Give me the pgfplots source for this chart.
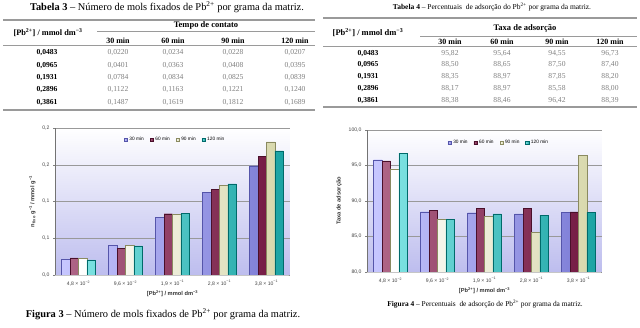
\documentclass[border=0pt]{standalone}
\usepackage{fontspec}
\setmainfont{Liberation Serif}
\newfontfamily\arial{Liberation Sans}
\usepackage{pgfplots}
\pgfplotsset{compat=1.18}
\definecolor{cA}{HTML}{9999FF}
\definecolor{cAd}{HTML}{5555AA}
\definecolor{cB}{HTML}{8B2252}
\definecolor{cBd}{HTML}{4A0F2A}
\definecolor{cC}{HTML}{FFFFCC}
\definecolor{cCd}{HTML}{8A8A60}
\definecolor{cD}{HTML}{22CCCC}
\definecolor{cDd}{HTML}{006A6A}
\definecolor{valgray}{HTML}{808080}
\definecolor{rulegray}{HTML}{9A9A9A}
\definecolor{lav}{HTML}{BDBDEE}
\pgfplotsset{
  mychart/.style={
    scale only axis, width=235pt,
    ybar=0pt, bar width=0.18,
    xmin=-0.5, xmax=4.5,
    xtick={0,...,4},
    xticklabels={{4,8 × 10\textsuperscript{−2}},{9,6 × 10\textsuperscript{−2}},{1,9 × 10\textsuperscript{−1}},{2,8 × 10\textsuperscript{−1}},{3,8 × 10\textsuperscript{−1}}},
    axis lines*=left,
    axis line style={gray!90!black},
    ymajorgrids, grid style={gray!80, line width=0.4pt},
    tick align=outside, major tick length=2pt,
    xtick style={draw=none}, ytick style={gray},
    ticklabel style={font=\arial\fontsize{5.1}{6}\selectfont, text=black!75},
    label style={font=\arial\bfseries\fontsize{5.7}{6.5}\selectfont, text=black!80},
    axis background/.style={top color=white, bottom color=lav},
    legend style={draw=none, fill=none, font=\arial\fontsize{4.8}{5}\selectfont, legend columns=4,
      /tikz/every even column/.append style={column sep=4pt}},
    legend image code/.code={\draw[##1] (0pt,-1.6pt) rectangle (3.2pt,1.6pt);},
    xlabel={[Pb\textsuperscript{2+}] / mmol dm\textsuperscript{−3}},
    xlabel style={yshift=2pt},
  },
  sA/.style={draw=cAd, left color=cA!55!white, right color=cA!85!black, line width=0.3pt},
  sB/.style={draw=cBd, left color=cB!70!white, right color=cB!85!black, line width=0.3pt},
  sC/.style={draw=cCd, left color=white, right color=cC!85!black, line width=0.3pt},
  sD/.style={draw=cDd, left color=cD!60!white, right color=cD!80!black, line width=0.3pt},
}
\begin{document}
\begin{tikzpicture}[x=1pt,y=1pt]
\path[use as bounding box] (0,0) rectangle (640,327);
% ---------------- Tabela 3 ----------------
\node[font=\fontsize{10.4}{12}\selectfont] at (167,320) {\textbf{Tabela 3} – Número de mols fixados de Pb\textsuperscript{2+} por grama da matriz.};
\draw[rulegray, line width=1.3pt] (3,307) -- (315,307);
\node[font=\bfseries\fontsize{8.5}{10}\selectfont] at (206,302) {Tempo de contato};
\draw[rulegray, line width=0.8pt] (97,296) -- (315,296);
\node[font=\bfseries\fontsize{8.3}{10}\selectfont] at (48,294) {[Pb\textsuperscript{2+}] / mmol dm\textsuperscript{−3}};
\foreach \xx/\tt in {118/30 min,173/60 min,233/90 min,295/120 min}
  \node[font=\bfseries\fontsize{8}{9}\selectfont] at (\xx,286) {\tt};
\draw[rulegray, line width=1pt] (3,281) -- (315,281);
\foreach \yy/\la/\va/\vb/\vc/\vd in {274/{0,0483}/{0,0220}/{0,0234}/{0,0228}/{0,0207},
  261/{0,0965}/{0,0401}/{0,0363}/{0,0408}/{0,0395},
  249/{0,1931}/{0,0784}/{0,0834}/{0,0825}/{0,0839},
  237/{0,2896}/{0,1122}/{0,1163}/{0,1221}/{0,1240},
  224/{0,3861}/{0,1487}/{0,1619}/{0,1812}/{0,1689}}{
  \node[font=\bfseries\fontsize{7.6}{9}\selectfont] at (47,\yy) {\la};
  \node[font=\fontsize{7.6}{9}\selectfont, text=valgray] at (118,\yy) {\va};
  \node[font=\fontsize{7.6}{9}\selectfont, text=valgray] at (173,\yy) {\vb};
  \node[font=\fontsize{7.6}{9}\selectfont, text=valgray] at (233,\yy) {\vc};
  \node[font=\fontsize{7.6}{9}\selectfont, text=valgray] at (295,\yy) {\vd};
}
\draw[rulegray, line width=1.3pt] (3,217) -- (315,217);
% ---------------- Tabela 4 ----------------
\node[font=\fontsize{7.5}{9}\selectfont] at (492,320) {\textbf{Tabela 4} – Percentuais\ \ de adsorção do Pb\textsuperscript{2+} por grama da matriz.};
\draw[rulegray, line width=1.3pt] (323,309) -- (637,309);
\node[font=\bfseries\fontsize{8.5}{10}\selectfont] at (525,299) {Taxa de adsorção};
\draw[rulegray, line width=0.8pt] (420,291) -- (637,291);
\node[font=\bfseries\fontsize{8.5}{10}\selectfont] at (368,294) {[Pb\textsuperscript{2+}] / mmol dm\textsuperscript{−3}};
\foreach \xx/\tt in {450/30 min,502/60 min,557/90 min,610/120 min}
  \node[font=\bfseries\fontsize{8}{9}\selectfont] at (\xx,285) {\tt};
\draw[rulegray, line width=1pt] (323,280) -- (637,280);
\foreach \yy/\la/\va/\vb/\vc/\vd in {273/{0,0483}/{95,82}/{95,64}/{94,55}/{96,73},
  262/{0,0965}/{88,50}/{88,65}/{87,50}/{87,40},
  250/{0,1931}/{88,35}/{88,97}/{87,85}/{88,20},
  238/{0,2896}/{88,17}/{88,97}/{85,58}/{88,00},
  226/{0,3861}/{88,38}/{88,46}/{96,42}/{88,39}}{
  \node[font=\bfseries\fontsize{7.6}{9}\selectfont] at (368,\yy) {\la};
  \node[font=\fontsize{7.6}{9}\selectfont, text=valgray] at (450,\yy) {\va};
  \node[font=\fontsize{7.6}{9}\selectfont, text=valgray] at (502,\yy) {\vb};
  \node[font=\fontsize{7.6}{9}\selectfont, text=valgray] at (557,\yy) {\vc};
  \node[font=\fontsize{7.6}{9}\selectfont, text=valgray] at (610,\yy) {\vd};
}
\draw[rulegray, line width=1.3pt] (323,220) -- (637,220);
% ---------------- Figura 3 ----------------
\begin{axis}[mychart, at={(55pt,52pt)}, anchor=south west, height=147pt,
  ymin=0, ymax=0.2, ytick={0,0.05,0.1,0.15,0.2},
  yticklabels={{0,0},{0,1},{0,1},{0,2},{0,2}},
  ylabel={n\textsubscript{fixo} g\textsuperscript{−1} / mmol g\textsuperscript{−1}},
  legend style={at={(0.28,0.92)}, anchor=west}]
\addplot[sA] coordinates {(0,0.0220) (1,0.0401) (2,0.0784) (3,0.1122) (4,0.1487)};
\addplot[sB] coordinates {(0,0.0234) (1,0.0363) (2,0.0834) (3,0.1163) (4,0.1619)};
\addplot[sC] coordinates {(0,0.0228) (1,0.0408) (2,0.0825) (3,0.1221) (4,0.1812)};
\addplot[sD] coordinates {(0,0.0207) (1,0.0395) (2,0.0839) (3,0.1240) (4,0.1689)};
\legend{30 min,60 min,90 min,120 min}
\fill[gray!45] (rel axis cs:0,0) -- (rel axis cs:1,0) -- ([xshift=-5pt,yshift=-3pt]rel axis cs:1,0) -- ([xshift=-5pt,yshift=-3pt]rel axis cs:0,0) -- cycle;
\end{axis}
\node[font=\fontsize{10.4}{12}\selectfont] at (163,13) {\textbf{Figura 3} – Número de mols fixados de Pb\textsuperscript{2+} por grama da matriz.};
% ---------------- Figura 4 ----------------
\begin{axis}[mychart, at={(367pt,55pt)}, anchor=south west, height=142pt,
  ymin=80, ymax=100, ytick={80,85,90,95,100},
  yticklabels={{80,0},{85,0},{90,0},{95,0},{100,0}},
  ylabel={Taxa de adsorção},
  legend style={at={(0.33,0.91)}, anchor=west}]
\addplot[sA] coordinates {(0,95.82) (1,88.50) (2,88.35) (3,88.17) (4,88.38)};
\addplot[sB] coordinates {(0,95.64) (1,88.65) (2,88.97) (3,88.97) (4,88.46)};
\addplot[sC] coordinates {(0,94.55) (1,87.50) (2,87.85) (3,85.58) (4,96.42)};
\addplot[sD] coordinates {(0,96.73) (1,87.40) (2,88.20) (3,88.00) (4,88.39)};
\legend{30 min,60 min,90 min,120 min}
\fill[gray!45] (rel axis cs:0,0) -- (rel axis cs:1,0) -- ([xshift=-5pt,yshift=-3pt]rel axis cs:1,0) -- ([xshift=-5pt,yshift=-3pt]rel axis cs:0,0) -- cycle;
\end{axis}
\node[font=\fontsize{7.4}{9}\selectfont] at (485,23) {\textbf{Figura 4} – Percentuais\ \ de adsorção de Pb\textsuperscript{2+} por grama da matriz.};
\end{tikzpicture}
\end{document}
